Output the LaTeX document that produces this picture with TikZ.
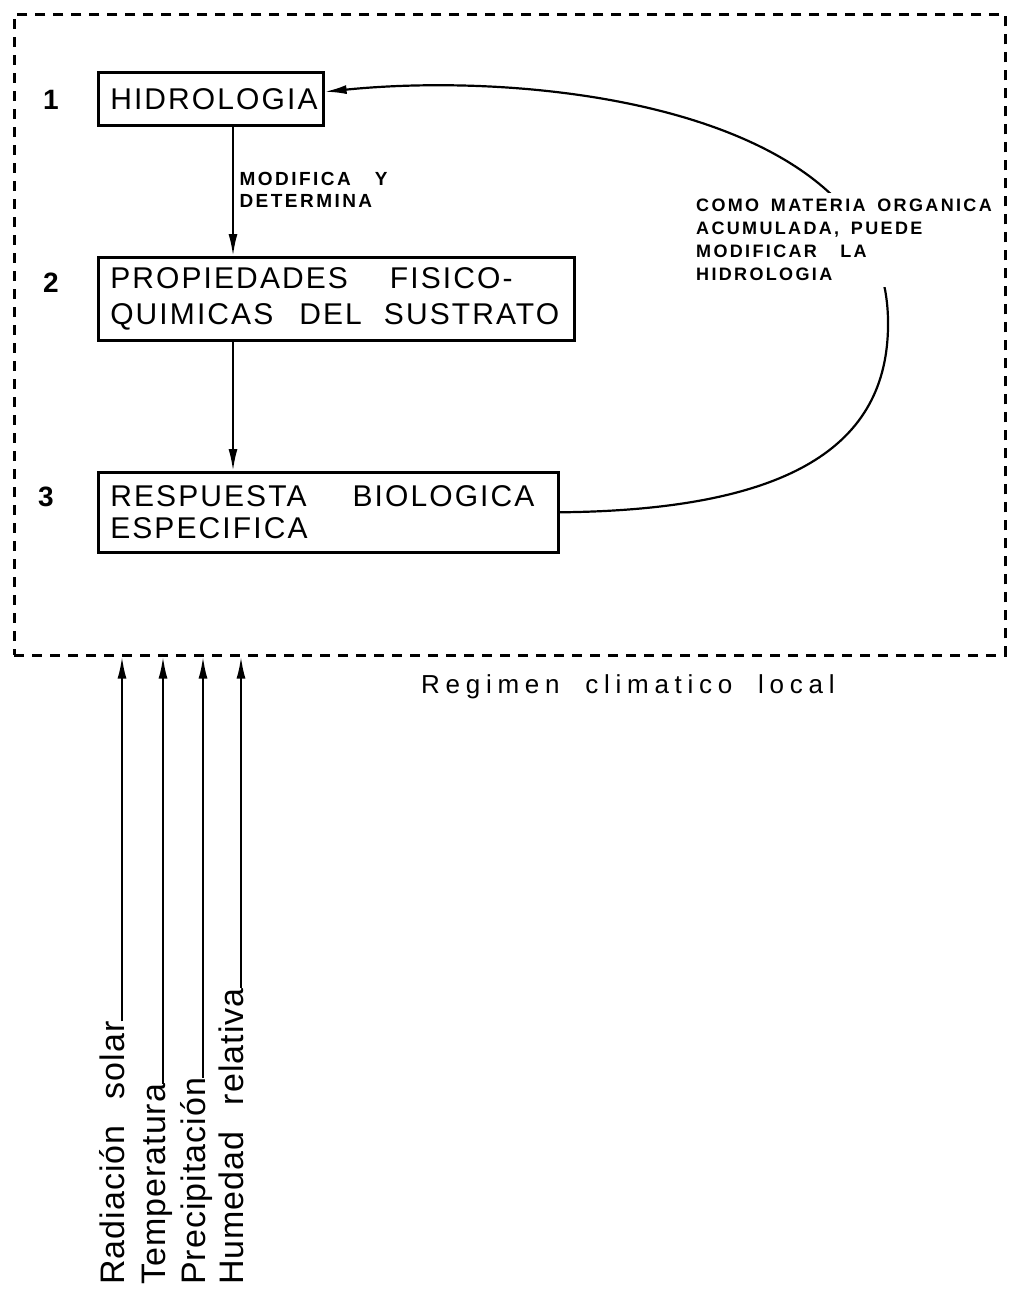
\documentclass[tikz,border=0pt]{standalone}
\usepackage{fontspec}
\setmainfont{Liberation Sans}
\newfontfamily\boxfont[LetterSpace=7]{Liberation Sans}
\newfontfamily\notefont[LetterSpace=13,WordSpace=1.6]{Liberation Sans}
\newfontfamily\climfont[LetterSpace=22,WordSpace=2]{Liberation Sans}
\newfontfamily\varfont[LetterSpace=3,WordSpace=2.5]{Liberation Sans}
\usetikzlibrary{arrows.meta,positioning,calc}
\tikzset{
  bloque/.style={rectangle,draw,line width=2.6pt,anchor=north west,
    align=left,inner xsep=12pt,font=\boxfont\fontsize{30}{36}\selectfont},
  marco/.style={rectangle,draw,line width=2.6pt,dash pattern=on 10pt off 8pt,
    anchor=north west},
  flecha/.style={-{Latex[length=22pt,width=9pt]},line width=2.2pt},
  numero/.style={font=\bfseries\fontsize{28}{34}\selectfont},
  nota/.style={font=\notefont\bfseries\fontsize{18}{23}\selectfont,align=left},
  varclima/.style={rotate=90,anchor=mid west,inner sep=0pt,
    font=\varfont\fontsize{34}{40}\selectfont}
}
\begin{document}
\begin{tikzpicture}[x=1pt,y=-1pt]
  \useasboundingbox (0,0) rectangle (1009,1295);
  % Dashed frame
  \node[marco,minimum width=991pt,minimum height=641pt] (m) at (13,13) {};
  % Boxes (top to bottom)
  \node[bloque,text width=201pt,minimum height=53pt] (b1) at (97,71) {HIDROLOGIA};
  \node[bloque,text width=452pt,minimum height=83pt] (b2) at (97,256)
    {PROPIEDADES\hspace{42pt}FISICO-\\QUIMICAS\hspace{26pt}DEL\hspace{22pt}SUSTRATO};
  \node[bloque,text width=436pt,minimum height=80pt,
    font=\boxfont\fontsize{30}{32}\selectfont] (b3) at (97,471)
    {RESPUESTA\hspace{46pt}BIOLOGICA\\ESPECIFICA};
  % Numbers
  \node[numero] (k1) at (51,100) {1};
  \node[numero] (k2) at (51,283) {2};
  \node[numero] (k3) at (46,497) {3};

  % Arrows down the column
  \coordinate (eje) at (233,0);
  \draw[flecha] (b1.south -| eje) -- (b2.north -| eje);
  \draw[flecha] (b2.south -| eje) -- (b3.north -| eje);
  \node[nota,font=\notefont\bfseries\fontsize{19}{22}\selectfont,anchor=north west]
    (lab) at (236,169) {MODIFICA\hspace{24pt}Y\\DETERMINA};

  % Feedback curve
  \draw[flecha] (b3.east) .. controls (800,510) and (890,440) .. (888,320)
    .. controls (885,110) and (540,70) .. ($(b1.east)+(0,-7)$);
  \node[nota,fill=white,inner sep=6pt,anchor=north west] (n1) at (690,193)
    {COMO MATERIA ORGANICA\\ACUMULADA, PUEDE\\MODIFICAR\ \ LA\\HIDROLOGIA};

  % Climate
  \node[font=\climfont\fontsize{26}{30}\selectfont,anchor=base west,inner sep=0pt]
    (clima) at (421,693) {Regimen climatico local};
  \foreach \nm/\x/\txt in {r1/122/Radiación solar,r2/163/Temperatura,
      r3/203/Precipitación,r4/241/Humedad relativa}{
    \node[varclima] (\nm) at (\x,1285) {\txt};
    \draw[flecha] (\nm.mid east) -- (\nm.mid east |- m.south);
  }
\end{tikzpicture}
\end{document}
